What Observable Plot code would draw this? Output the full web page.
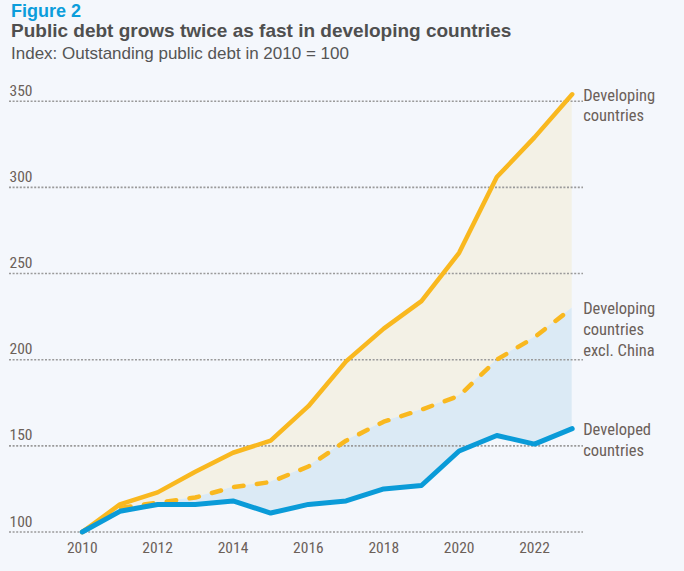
<!DOCTYPE html>
<html>
<head>
<meta charset="utf-8">
<script src="https://cdn.jsdelivr.net/npm/d3@7"></script>
<script src="https://cdn.jsdelivr.net/npm/@observablehq/plot@0.6"></script>
<style>
  html, body { margin: 0; padding: 0; background: #f4f7fc; }
  #wrap { position: relative; width: 684px; height: 571px; overflow: hidden; background: #f4f7fc; }
  .t { position: absolute; left: 11px; white-space: nowrap; font-family: "Liberation Sans", Arial, sans-serif; }
  #fig { top: 0.5px; font-size: 18px; line-height: 20px; font-weight: bold; color: #0b9ddb; }
  #title { top: 20.7px; font-size: 19px; line-height: 20px; font-weight: bold; color: #4f4f4f; }
  #sub { top: 45px; font-size: 17px; line-height: 18px; color: #555555; }
  #chart { position: absolute; left: 0; top: 70px; }
</style>
</head>
<body>
<div id="wrap">
  <div class="t" id="fig">Figure 2</div>
  <div class="t" id="title">Public debt grows twice as fast in developing countries</div>
  <div class="t" id="sub">Index: Outstanding public debt in 2010 = 100</div>
  <div id="chart"></div>
</div>
<script>
const years      = [2010, 2011, 2012, 2013, 2014, 2015, 2016, 2017, 2018, 2019, 2020, 2021, 2022, 2023];
const developing = [100, 116, 123, 135, 146, 153, 173, 199, 218, 234, 262, 306, 329, 354];
const exChina    = [100, 114, 117, 120, 126, 129, 138, 153, 164, 171, 179, 200, 213, 230];
const developed  = [100, 112, 116, 116, 118, 111, 116, 118, 125, 127, 147, 156, 151, 160];
const yTicks = [100, 150, 200, 250, 300, 350];
const xTicks = [2010, 2012, 2014, 2016, 2018, 2020, 2022];
const seriesLabels = [
  {name: "Developing\ncountries", values: developing},
  {name: "Developing\ncountries\nexcl. China", values: exChina},
  {name: "Developed\ncountries", values: developed}
];

const rows = years.map((y, i) => ({year: y, developing: developing[i], exChina: exChina[i], developed: developed[i]}));
const ends = seriesLabels.map(s => ({year: years[years.length - 1], value: s.values[s.values.length - 1], name: s.name}));

const narrow = "'Liberation Sans Narrow', 'Arial Narrow', 'Roboto Condensed', sans-serif";
const textCol = "#6b6059";

const chart = Plot.plot({
  width: 684,
  height: 501,
  marginLeft: 9,
  marginRight: 101,
  marginTop: 30.7,
  marginBottom: 39.5,
  style: {background: "transparent", fontFamily: narrow, fontSize: "15.5px", color: textCol, overflow: "visible"},
  x: {domain: [2008.07, 2023.3], label: null},
  y: {domain: [100, 350], axis: null, label: null},
  marks: [
    Plot.areaY(rows, {x: "year", y1: "exChina", y2: "developing", fill: "#f3f1e6"}),
    Plot.areaY(rows, {x: "year", y1: "developed", y2: "exChina", fill: "#dbeaf5"}),
    Plot.ruleY(yTicks, {stroke: "#9a9a9a", strokeWidth: 1.6, strokeDasharray: "2,1.6"}),
    Plot.text(yTicks, {y: d => d, text: d => String(d), frameAnchor: "left", textAnchor: "start", lineAnchor: "bottom", dy: -5.5, fill: textCol, fontSize: 15.5}),
    Plot.axisX({ticks: xTicks, tickSize: 0, tickPadding: 10, tickFormat: d => String(d), label: null, fill: textCol, fontSize: 15.5}),
    Plot.lineY(rows, {x: "year", y: "exChina", stroke: "#f9b81f", strokeWidth: 4.5, strokeDasharray: "9.5,13.5", strokeLinecap: "round"}),
    Plot.lineY(rows, {x: "year", y: "developing", stroke: "#f9b81f", strokeWidth: 4.5, strokeLinejoin: "round", strokeLinecap: "round"}),
    Plot.lineY(rows, {x: "year", y: "developed", stroke: "#0a9bd8", strokeWidth: 5, strokeLinejoin: "round", strokeLinecap: "round"}),
    Plot.text(ends, {x: "year", y: "value", text: "name", textAnchor: "start", lineAnchor: "top", lineHeight: 1.25, dx: 11, dy: -8.2, fill: textCol, fontSize: 16.5})
  ]
});
document.getElementById("chart").appendChild(chart);
</script>
</body>
</html>
